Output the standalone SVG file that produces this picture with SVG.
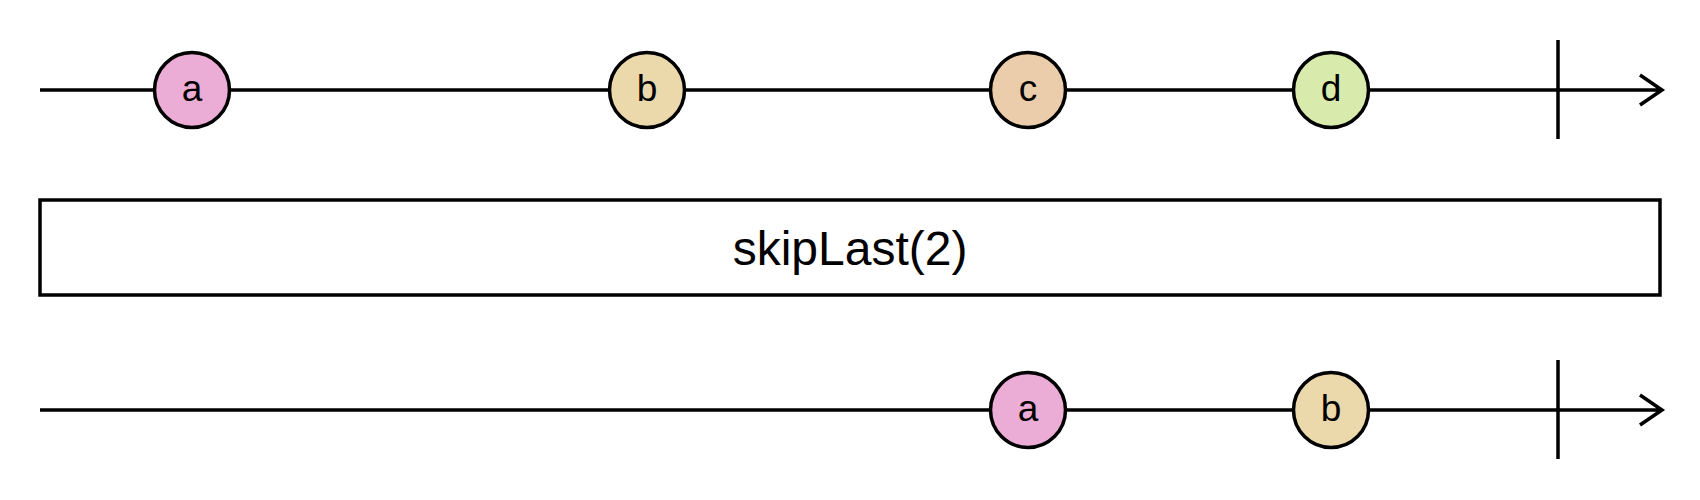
<svg xmlns="http://www.w3.org/2000/svg" width="1700" height="500" viewBox="0 0 1700 500">
<style>
.ln{stroke:#000;stroke-width:3.5;fill:none}
.m{stroke:#000;stroke-width:3.5}
.t{font-family:"Liberation Sans",Arial,sans-serif;font-size:37px;text-anchor:middle;fill:#000}
.op{font-family:"Liberation Sans",Arial,sans-serif;font-size:48px;text-anchor:middle;fill:#000}
</style>
<rect width="1700" height="500" fill="#fff"/>
<g id="connectors">
<path class="ln" d="M40 90H1662M1640 75L1662 90L1640 105M1558 40V139"/>
<path class="ln" d="M40 410H1662M1640 395L1662 410L1640 425M1558 360V459"/>
</g>
<g id="in-a"><circle class="m" cx="192" cy="90" r="37.5" fill="#ebacd6"/><text class="t" x="192" y="101">a</text></g>
<g id="in-b"><circle class="m" cx="647" cy="90" r="37.5" fill="#ebd9ac"/><text class="t" x="647" y="101">b</text></g>
<g id="in-c"><circle class="m" cx="1028" cy="90" r="37.5" fill="#ebcdac"/><text class="t" x="1028" y="101">c</text></g>
<g id="in-d"><circle class="m" cx="1331" cy="90" r="37.5" fill="#d9ebac"/><text class="t" x="1331" y="101">d</text></g>
<g id="operator"><rect x="40" y="200" width="1620" height="95" fill="#fff" stroke="#000" stroke-width="3.5"/><text class="op" x="850" y="265">skipLast(2)</text></g>
<g id="out-a"><circle class="m" cx="1028" cy="410" r="37.5" fill="#ebacd6"/><text class="t" x="1028" y="421">a</text></g>
<g id="out-b"><circle class="m" cx="1331" cy="410" r="37.5" fill="#ebd9ac"/><text class="t" x="1331" y="421">b</text></g>
</svg>
